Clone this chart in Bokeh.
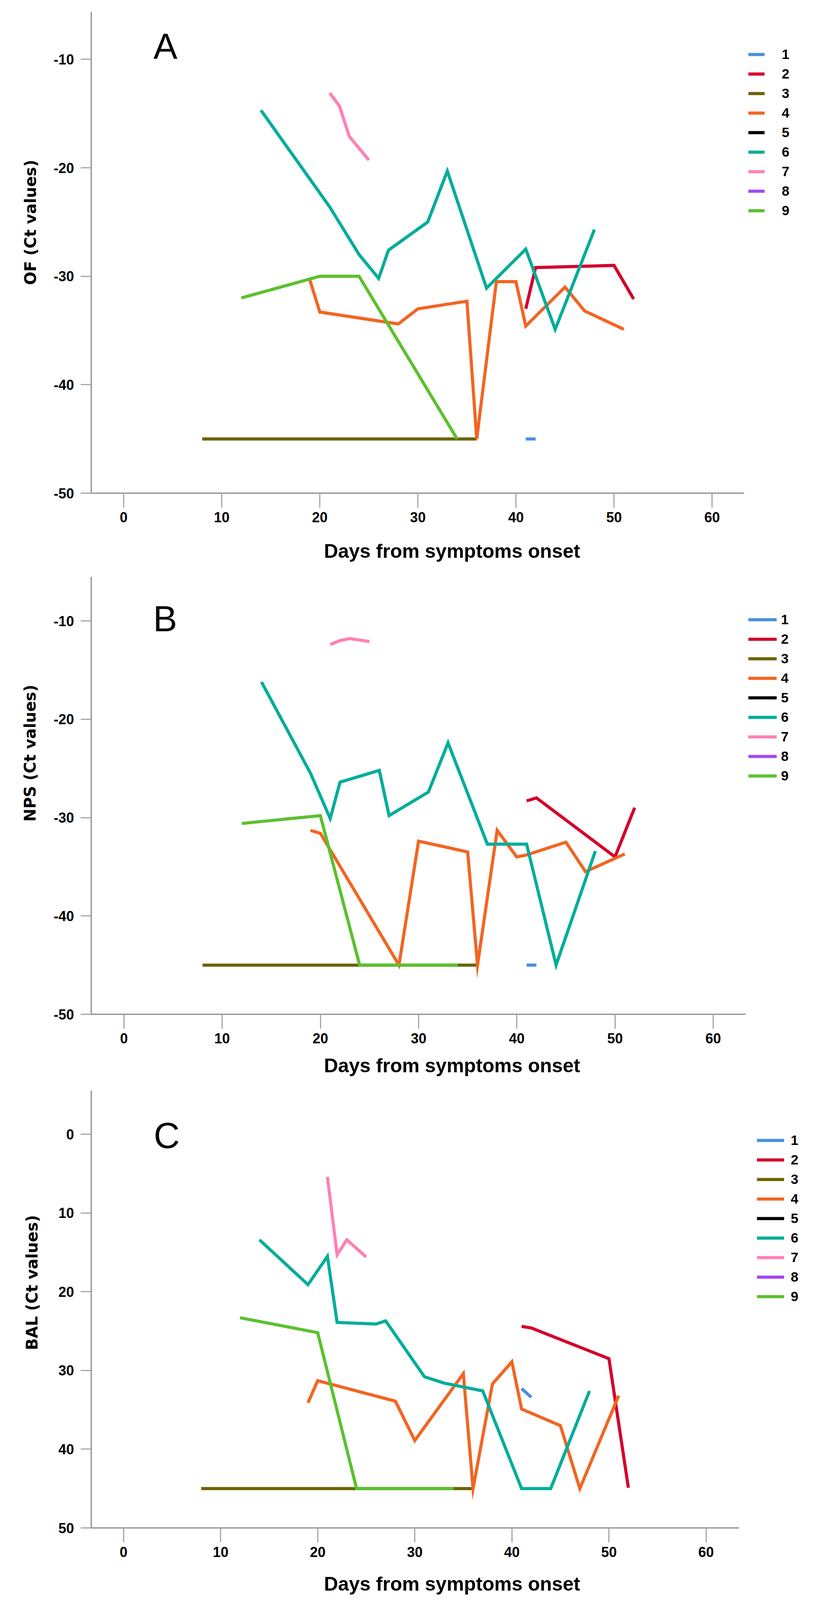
from bokeh.plotting import figure
from bokeh.models import Range1d, FixedTicker, Label, Legend, LegendItem, Title
from bokeh.layouts import column
from bokeh.embed import file_html
from bokeh.resources import INLINE

NAN = float("nan")

# ---------------- data ----------------
series_names = ["1", "2", "3", "4", "5", "6", "7", "8", "9"]
series_colors = ["#4a8fe0", "#d4002c", "#6b6400", "#f26522", "#000000",
                 "#00ad9a", "#ff80b5", "#a347f5", "#5cc02f"]

x_ticks = [0, 10, 20, 30, 40, 50, 60]
ab_y_ticks = [-50, -40, -30, -20, -10]
c_y_ticks = [0, 10, 20, 30, 40, 50]

# Panel A: OF (Ct values)
of_days_1 = [41, 42]
of_ct_1 = [-45, -45]
of_days_2 = [41, 42, 50, 52]
of_ct_2 = [-33.0, -29.2, -29.0, -32.1]
of_days_3 = [8, 36]
of_ct_3 = [-45, -45]
of_days_4 = [19, 20, 28, 30, 35, 36, 38, 40, 41, 45, 47, 51]
of_ct_4 = [-30.4, -33.3, -34.4, -33.0, -32.3, -45, -30.5, -30.5, -34.6, -31.0, -33.2, -34.9]
of_days_5 = [NAN]
of_ct_5 = [NAN]
of_days_6 = [14, 21, 24, 26, 27, 31, 33, 37, 41, 44, 48]
of_ct_6 = [-14.7, -23.6, -28.0, -30.2, -27.6, -25.0, -20.3, -31.1, -27.5, -34.9, -25.7]
of_days_7 = [21, 22, 23, 25]
of_ct_7 = [-13.1, -14.3, -17.1, -19.3]
of_days_8 = [NAN]
of_ct_8 = [NAN]
of_days_9 = [12, 20, 24, 34]
of_ct_9 = [-32.0, -30.0, -30.0, -45]

# Panel B: NPS (Ct values)
nps_days_1 = [41, 42]
nps_ct_1 = [-45, -45]
nps_days_2 = [41, 42, 50, 52]
nps_ct_2 = [-28.3, -28.0, -34.0, -29.0]
nps_days_3 = [8, 36]
nps_ct_3 = [-45, -45]
nps_days_4 = [19, 20, 28, 30, 35, 36, 38, 40, 41, 45, 47, 51]
nps_ct_4 = [-31.3, -31.6, -45, -32.4, -33.5, -45, -31.3, -34.0, -33.8, -32.5, -35.5, -33.7]
nps_days_5 = [NAN]
nps_ct_5 = [NAN]
nps_days_6 = [14, 19, 21, 22, 26, 27, 31, 33, 37, 41, 44, 48]
nps_ct_6 = [-16.2, -25.5, -30.1, -26.4, -25.2, -29.8, -27.4, -22.4, -32.7, -32.7, -45, -33.4]
nps_days_7 = [21, 22, 23, 25]
nps_ct_7 = [-12.4, -12.0, -11.8, -12.1]
nps_days_8 = [NAN]
nps_ct_8 = [NAN]
nps_days_9 = [12, 20, 24, 34]
nps_ct_9 = [-30.6, -29.8, -45, -45]

# Panel C: BAL (Ct values)
bal_days_1 = [41, 42]
bal_ct_1 = [32.3, 33.4]
bal_days_2 = [41, 42, 50, 52]
bal_ct_2 = [24.4, 24.6, 28.5, 44.9]
bal_days_3 = [8, 36]
bal_ct_3 = [45, 45]
bal_days_4 = [19, 20, 28, 30, 35, 36, 38, 40, 41, 45, 47, 51]
bal_ct_4 = [34.1, 31.3, 33.9, 38.9, 30.4, 45, 31.7, 28.9, 34.9, 37.0, 45, 33.2]
bal_days_5 = [NAN]
bal_ct_5 = [NAN]
bal_days_6 = [14, 19, 21, 22, 26, 27, 31, 33, 37, 41, 44, 48]
bal_ct_6 = [13.4, 19.1, 15.5, 23.9, 24.1, 23.7, 30.8, 31.6, 32.6, 45, 45, 32.6]
bal_days_7 = [21, 22, 23, 25]
bal_ct_7 = [5.4, 15.3, 13.4, 15.6]
bal_days_8 = [NAN]
bal_ct_8 = [NAN]
bal_days_9 = [12, 20, 24, 34]
bal_ct_9 = [23.3, 25.2, 45, 45]

of_days = [of_days_1, of_days_2, of_days_3, of_days_4, of_days_5, of_days_6, of_days_7, of_days_8, of_days_9]
of_ct = [of_ct_1, of_ct_2, of_ct_3, of_ct_4, of_ct_5, of_ct_6, of_ct_7, of_ct_8, of_ct_9]
nps_days = [nps_days_1, nps_days_2, nps_days_3, nps_days_4, nps_days_5, nps_days_6, nps_days_7, nps_days_8, nps_days_9]
nps_ct = [nps_ct_1, nps_ct_2, nps_ct_3, nps_ct_4, nps_ct_5, nps_ct_6, nps_ct_7, nps_ct_8, nps_ct_9]
bal_days = [bal_days_1, bal_days_2, bal_days_3, bal_days_4, bal_days_5, bal_days_6, bal_days_7, bal_days_8, bal_days_9]
bal_ct = [bal_ct_1, bal_ct_2, bal_ct_3, bal_ct_4, bal_ct_5, bal_ct_6, bal_ct_7, bal_ct_8, bal_ct_9]

X_TITLE = "Days from symptoms onset"


def make_panel(days, cts, letter, ylabel, yticks, yrange, xrange, xbounds,
               height, b_top, b_bottom, b_left, title_standoff,
               leg_loc, glyph_w, lab_standoff, letter_xy,
               ytitle_standoff, ytitle_offset):
    p = figure(width=2088, height=height, output_backend="svg",
               toolbar_location=None, x_range=Range1d(*xrange),
               y_range=Range1d(*yrange),
               min_border_top=b_top, min_border_bottom=b_bottom,
               min_border_left=b_left, min_border_right=8)
    p.outline_line_color = None
    p.xgrid.visible = False
    p.ygrid.visible = False
    p.background_fill_color = "white"
    p.border_fill_color = "white"

    items = []
    for i in range(9):
        r = p.line(days[i], cts[i], line_color=series_colors[i], line_width=8,
                   line_join="miter", line_cap="butt")
        items.append(LegendItem(label=series_names[i], renderers=[r]))

    for ax in (p.xaxis[0], p.yaxis[0]):
        ax.axis_line_color = "#8c8c8c"
        ax.axis_line_width = 3
        ax.major_tick_line_color = "#a6a6a6"
        ax.major_tick_line_width = 3
        ax.major_tick_in = 0
        ax.minor_tick_line_color = None
        ax.major_label_text_font = "Liberation Sans"
        ax.major_label_text_font_style = "bold"
        ax.major_label_text_font_size = "36px"
        ax.major_label_text_color = "black"

    xa = p.xaxis[0]
    xa.bounds = xbounds
    xa.ticker = FixedTicker(ticks=x_ticks)
    xa.major_label_overrides = {t: str(t) for t in x_ticks}
    xa.major_tick_out = 37
    xa.major_label_standoff = 11
    xa.axis_label = X_TITLE
    xa.axis_label_text_font = "Liberation Sans"
    xa.axis_label_text_font_style = "bold"
    xa.axis_label_text_font_size = "50px"
    xa.axis_label_text_color = "black"
    xa.axis_label_standoff = title_standoff

    ya = p.yaxis[0]
    ya.ticker = FixedTicker(ticks=yticks)
    ya.major_label_overrides = {t: str(t) for t in yticks}
    ya.major_tick_out = 27
    ya.major_label_standoff = 17

    lg = Legend(items=items, location=leg_loc)
    lg.margin = 0
    lg.padding = 0
    lg.spacing = 0
    lg.border_line_color = None
    lg.background_fill_alpha = 0
    lg.glyph_width = glyph_w
    lg.glyph_height = 50
    lg.label_height = 50
    lg.label_standoff = lab_standoff
    lg.label_text_font = "Liberation Sans"
    lg.label_text_font_style = "bold"
    lg.label_text_font_size = "35px"
    lg.label_text_color = "black"
    p.add_layout(lg, "center")

    p.add_layout(Label(x=letter_xy[0], y=letter_xy[1], text=letter,
                       text_font="Liberation Sans", text_font_size="92px",
                       text_align="center", text_baseline="alphabetic",
                       text_color="black"))
    p.add_layout(Title(text=ylabel, align="left", offset=ytitle_offset,
                       standoff=ytitle_standoff, text_font="DejaVu Sans",
                       text_font_style="bold", text_font_size="40px",
                       text_color="black"), "left")
    return p


pa = make_panel(of_days, of_ct, "A", "OF (Ct  values)", ab_y_ticks,
                (-50, -5.63), (-3.31, 70.27), (-3.31, 63.27), 1462,
                30, 200, 231, 43,
                (1682, 698), 42, 44, (4.26, -8.81), 67, 533)
pb = make_panel(nps_days, nps_ct, "B", "NPS (Ct  values)", ab_y_ticks,
                (-50, -5.51), (-3.33, 70.14), (-3.33, 63.3), 1310,
                14, 176, 233, 26,
                (1682, 585), 73, 11, (4.2, -9.79), 69, 493)
pc = make_panel(bal_days, bal_ct, "C", "BAL (Ct  values)", c_y_ticks,
                (50, -5.57), (-3.33, 71.0), (-3.33, 63.4), 1370,
                19, 231, 227, 38,
                (1704, 567), 70, 17, (4.45, 0.16), 83, 455)

layout = column(pa, pb, pc, spacing=0)
open("out.html", "w").write(file_html(layout, INLINE))
